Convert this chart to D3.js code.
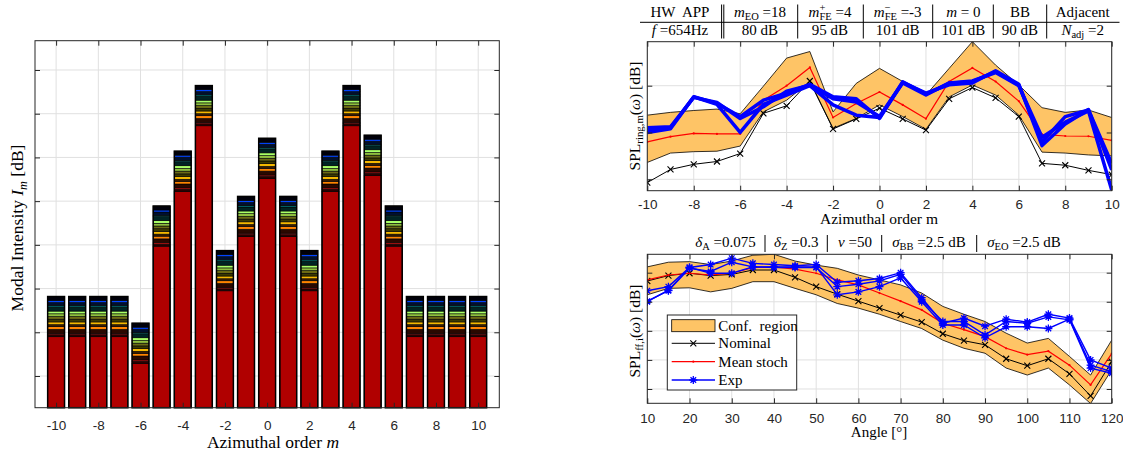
<!DOCTYPE html>
<html>
<head>
<meta charset="utf-8">
<script src="https://cdn.jsdelivr.net/npm/d3@7"></script>
<style>
body{margin:0;background:#fff;}
svg{display:block;font-family:"Liberation Serif","Times New Roman",serif;}
text{white-space:pre;}
.tick text{font-family:"Liberation Sans",Arial,sans-serif;font-size:13.5px;fill:#262626;}
</style>
</head>
<body>
<div id="fig"></div>
<script>
// ---- left panel: modal intensity (stacked bars) ----
var modes=d3.range(-10,11);
var baseLevel=[19.0,19.0,19.0,19.0,12.9,39.7,52.25,67.25,29.5,41.9,55.2,41.9,29.5,52.25,67.25,55.9,39.7,19.0,19.0,19.0,19.0];
var stackSizes=[0.46,0.3,0.91,0.62,0.46,0.62,0.62,0.62,0.62,0.62,0.91,0.3,0.75,0.46,0.91];
var stackColors=['#2a0000','#ff1a1a','#2b0800','#ff8400','#3a1c00','#f5b800','#3c3a00','#6b6a14','#8fbf3f','#a8ff66','#002424','#008a8a','#00102e','#0044ff','#00000a'];
var barXTicks=[-10,-8,-6,-4,-2,0,2,4,6,8,10];
var barYTicks=[10,20,30,40,50,60,70,80];

// ---- top right: ring SPL vs azimuthal order ----
var ringModes=d3.range(-10,11);
var ringNominal=[79.3,82.1,83.2,83.8,85.5,94.1,95.7,101.0,90.75,92.9,95.2,92.9,90.5,97.2,99.6,97.4,93.4,83.4,83.0,81.9,81.0];
var ringMean=[88.0,89.1,89.8,89.7,89.7,96.9,100.0,103.9,93.2,96.2,98.65,95.9,92.95,100.9,103.8,100.9,96.7,89.6,89.25,89.2,88.3];
var ringUpper=[93.7,94.3,94.7,95.0,94.0,99.9,105.9,107.3,94.4,100.5,103.7,100.9,98.0,103.7,109.4,104.4,100.15,95.3,94.3,94.8,93.2];
var ringLower=[83.6,85.6,85.9,86.0,87.1,94.4,96.9,100.85,90.9,93.0,95.9,93.4,90.7,97.6,100.15,98.0,93.7,85.8,85.6,85.2,85.0];
var ringExpA=[90.5,91.0,97.65,96.2,93.4,96.9,98.4,100.3,97.65,97.2,93.0,100.85,98.2,100.5,100.85,103.0,100.15,88.0,93.4,94.8,83.4];
var ringExpB=[90.0,90.8,97.6,96.0,90.0,96.0,98.0,100.0,95.9,93.7,93.2,100.6,98.0,100.6,101.0,102.8,100.0,89.0,92.2,94.6,77.7];
var ringExpC=[91.0,91.2,97.5,96.4,93.0,95.5,98.8,100.1,97.2,96.5,93.4,100.7,98.4,100.2,100.6,103.2,100.3,87.2,91.8,94.9,82.0];
var ringXTicks=[-10,-8,-6,-4,-2,0,2,4,6,8,10];
var ringYTicks=[80,90,100];

// ---- bottom right: far-field SPL vs angle ----
var angles=d3.range(10,121,5);
var ffNominal=[78.57,79.5,79.9,79.5,79.7,80.46,80.46,79.2,77.6,76.3,75.1,73.9,72.7,71.5,69.5,68.3,67.6,65.2,64.0,65.2,62.6,58.8,64.7];
var ffMean=[78.75,79.6,79.9,79.6,79.9,80.86,81.0,80.6,79.9,78.75,77.9,76.5,75.1,73.6,71.3,70.2,69.0,67.0,65.9,66.5,64.1,60.7,66.1];
var ffUpper=[81.0,81.8,81.9,81.4,82.0,83.0,83.16,82.0,81.3,80.75,79.6,78.75,77.9,76.5,74.2,72.85,71.6,69.6,67.9,68.7,65.6,62.4,68.4];
var ffLower=[76.2,77.3,77.4,76.7,77.3,78.45,78.45,77.3,76.2,74.7,73.9,72.85,71.6,70.4,68.4,67.0,66.15,63.6,62.4,63.6,60.7,57.5,63.3];
var ffExpA=[76.9,77.6,80.9,81.4,82.5,81.6,81.4,81.2,81.4,78.35,78.6,79.0,80.0,75.7,71.3,72.2,70.8,72.0,71.5,72.85,72.2,65.0,63.6];
var ffExpB=[75.1,76.9,80.75,80.2,81.8,81.0,81.0,81.0,81.0,76.2,76.7,77.6,79.1,75.0,71.0,71.0,68.8,70.7,70.7,70.4,72.0,64.1,63.0];
var ffExpC=[75.0,77.0,80.9,79.9,79.9,81.0,80.9,80.9,80.9,77.6,78.0,78.6,79.7,75.3,71.6,71.6,69.3,71.6,71.3,72.4,71.9,63.6,62.7];
var ffXTicks=[10,20,30,40,50,60,70,80,90,100,110,120];
var ffYTicks=[60,65,70,75,80];

var legendLabels=['Conf.  region','Nominal','Mean stoch','Exp'];

var bandFill='#fec466', expBlue='#0000ff', axisCol='#262626', gridCol='#e0e0e0';

var svg=d3.select('#fig').append('svg')
    .attr('width',1123)
    .attr('height',452);

// text with italic / sub / sup pieces
function rich(g,x,y,parts,size,rot){
    var t=g.append('text')
        .attr('text-anchor','middle')
        .attr('font-size',size)
        .attr('fill','#000');
    if(rot) t.attr('transform','translate('+x+','+y+') rotate(-90)');
    else t.attr('x',x).attr('y',y);
    var shift=0, last=null;
    parts.forEach(function(p){
        var target=p.sub?size*0.22:(p.sup?-size*0.4:0);
        var s=t.append('tspan').text(p.t).attr('dy',target-shift);
        shift=target;
        if(p.sub||p.sup) s.attr('font-size',size*0.7);
        if(p.i) s.attr('font-style','italic');
        if(p.back&&last) s.attr('dx',-last.node().getComputedTextLength());
        last=s;
    });
    return t;
}

function grid(g,x,y,xt,yt){
    var r=x.range(), d=y.range();
    g.selectAll('.vg').data(xt).enter().append('line')
        .attr('x1',function(v){return x(v);}).attr('x2',function(v){return x(v);})
        .attr('y1',d[0]).attr('y2',d[1])
        .attr('stroke',gridCol);
    g.selectAll('.hg').data(yt).enter().append('line')
        .attr('x1',r[0]).attr('x2',r[1])
        .attr('y1',function(v){return y(v);}).attr('y2',function(v){return y(v);})
        .attr('stroke',gridCol);
}

function frame(g,x,y,xt,yt,pad){
    var r=x.range(), d=y.range();
    var fmt=function(v){return String(v);};
    g.append('g').attr('transform','translate(0,'+d[0]+')')
        .call(d3.axisBottom(x).tickValues(xt).tickSizeInner(-5).tickSizeOuter(0).tickPadding(pad).tickFormat(fmt));
    g.append('g').attr('transform','translate(0,'+d[1]+')')
        .call(d3.axisTop(x).tickValues(xt).tickSizeInner(-5).tickSizeOuter(0).tickFormat(''));
    g.append('g').attr('transform','translate('+r[0]+',0)')
        .call(d3.axisLeft(y).tickValues(yt).tickSizeInner(-5).tickSizeOuter(0).tickFormat(''));
    g.append('g').attr('transform','translate('+r[1]+',0)')
        .call(d3.axisRight(y).tickValues(yt).tickSizeInner(-5).tickSizeOuter(0).tickFormat(''));
    g.selectAll('.domain').remove();
    g.selectAll('.tick line').attr('stroke',axisCol);
    g.append('rect')
        .attr('x',r[0]).attr('y',d[1])
        .attr('width',r[1]-r[0]).attr('height',d[0]-d[1])
        .attr('fill','none').attr('stroke',axisCol);
}

function clipFor(id,x,y){
    var r=x.range(), d=y.range();
    svg.append('clipPath').attr('id',id).append('rect')
        .attr('x',r[0]).attr('y',d[1]).attr('width',r[1]-r[0]).attr('height',d[0]-d[1]);
}

var xMark='M-3,-3L3,3M-3,3L3,-3';
var starMark='M-4,0L4,0M0,-4L0,4M-2.8,-2.8L2.8,2.8M-2.8,2.8L2.8,-2.8';

// ================= left panel =================
var xL=d3.scaleLinear().domain([-11,11]).range([35,499.3]);
var yL=d3.scaleLinear().domain([2.75,86.7]).range([407.7,40.7]);
var gL=svg.append('g');
grid(gL,xL,yL,barXTicks,barYTicks);

var bw=0.8*(xL(1)-xL(0));
var cum=[0].concat(Array.from(d3.cumsum(stackSizes)));
var stackTotal=cum[cum.length-1];
var bars=gL.selectAll('g.bar')
    .data(modes)
    .enter()
    .append('g')
    .attr('class','bar');
bars.append('rect')
    .attr('x',function(m){return xL(m)-bw/2;})
    .attr('y',function(m,i){return yL(baseLevel[i]);})
    .attr('width',bw)
    .attr('height',function(m,i){return yL(yL.domain()[0])-yL(baseLevel[i]);})
    .attr('fill','#b00000')
    .attr('stroke','#000').attr('stroke-width',0.8);
bars.each(function(m,i){
    var b=d3.select(this);
    stackSizes.forEach(function(s,j){
        b.append('rect')
            .attr('x',xL(m)-bw/2)
            .attr('y',yL(baseLevel[i]+cum[j+1]))
            .attr('width',bw)
            .attr('height',yL(baseLevel[i]+cum[j])-yL(baseLevel[i]+cum[j+1]))
            .attr('fill',stackColors[j])
            .attr('stroke','#000').attr('stroke-width',0.6);
    });
    b.append('rect')
        .attr('x',xL(m)-bw/2)
        .attr('y',yL(baseLevel[i]+stackTotal))
        .attr('width',bw)
        .attr('height',yL(yL.domain()[0])-yL(baseLevel[i]+stackTotal))
        .attr('fill','none')
        .attr('stroke','#000').attr('stroke-width',1.5);
});
frame(gL,xL,yL,barXTicks,barYTicks,12.3);
rich(gL,273,448,[{t:'Azimuthal order '},{t:'m',i:1}],17.5);
rich(gL,23,228,[{t:'Modal Intensity '},{t:'I',i:1},{t:'m',i:1,sub:1},{t:' [dB]'}],17.5,true);

// ================= top right panel =================
var xR=d3.scaleLinear().domain([-10,10]).range([647.3,1111.7]);
var yR=d3.scaleLinear().domain([77.56,109.4]).range([190.7,41.7]);
var gR=svg.append('g');
grid(gR,xR,yR,ringXTicks,ringYTicks);
clipFor('clipR',xR,yR);
var pR=gR.append('g').attr('clip-path','url(#clipR)');

var bandR=d3.area()
    .x(function(d,i){return xR(ringModes[i]);})
    .y0(function(d,i){return yR(ringLower[i]);})
    .y1(function(d,i){return yR(ringUpper[i]);});
var lineR=function(arr){
    return d3.line().x(function(d,i){return xR(ringModes[i]);}).y(function(d){return yR(d);})(arr);
};
pR.append('path').attr('d',bandR(ringModes)).attr('fill',bandFill);
[ringUpper,ringLower].forEach(function(a){
    pR.append('path').attr('d',lineR(a)).attr('fill','none').attr('stroke','#000').attr('stroke-width',0.8);
});
pR.append('path').attr('d',lineR(ringNominal)).attr('fill','none').attr('stroke','#000').attr('stroke-width',1);
pR.selectAll('.nomR').data(ringNominal).enter().append('path')
    .attr('d',xMark)
    .attr('transform',function(d,i){return 'translate('+xR(ringModes[i])+','+yR(d)+')';})
    .attr('stroke','#000').attr('stroke-width',1.1).attr('fill','none');
pR.append('path').attr('d',lineR(ringMean)).attr('fill','none').attr('stroke','#ff0000').attr('stroke-width',1.2);
pR.selectAll('.meanR').data(ringMean).enter().append('circle')
    .attr('cx',function(d,i){return xR(ringModes[i]);})
    .attr('cy',function(d){return yR(d);})
    .attr('r',1.1).attr('fill','#ff0000');
[ringExpB,ringExpC,ringExpA].forEach(function(a){
    pR.append('path').attr('d',lineR(a)).attr('fill','none')
        .attr('stroke',expBlue).attr('stroke-width',3.5).attr('stroke-linejoin','round');
});
frame(gR,xR,yR,ringXTicks,ringYTicks,8.6);
rich(gR,879,224,[{t:'Azimuthal order m'}],15.5);
rich(gR,640,116,[{t:'SPL'},{t:'ring,m',sub:1},{t:'('},{t:'ω',i:1},{t:') [dB]'}],15.5,true);

// parameter table above the top right panel
var tableX=[680,760,830,897.7,963.3,1020,1082.7];
var tableRow1=[
    [{t:'HW  APP'}],
    [{t:'m',i:1},{t:'EO',sub:1},{t:' =18'}],
    [{t:'m',i:1},{t:'+',sup:1},{t:'FE',sub:1,back:1},{t:' =4'}],
    [{t:'m',i:1},{t:'\u2212',sup:1},{t:'FE',sub:1,back:1},{t:' =-3'}],
    [{t:'m',i:1},{t:' = 0'}],
    [{t:'BB'}],
    [{t:'Adjacent'}]
];
var tableRow2=[
    [{t:'f',i:1},{t:' =654Hz'}],
    [{t:'80 dB'}],
    [{t:'95 dB'}],
    [{t:'101 dB'}],
    [{t:'101 dB'}],
    [{t:'90 dB'}],
    [{t:'N',i:1},{t:'adj',sub:1},{t:' =2'}]
];
var tableSeps=[721.6,723.8,797.7,863.3,932.7,993.3,1046.7];
var gT=svg.append('g');
tableX.forEach(function(x,i){
    rich(gT,x,17,tableRow1[i],15);
    rich(gT,x,34.5,tableRow2[i],15);
});
gT.append('line').attr('x1',640).attr('x2',1119.5).attr('y1',22.3).attr('y2',22.3).attr('stroke','#000');
gT.selectAll('.sep').data(tableSeps).enter().append('line')
    .attr('x1',function(d){return d;}).attr('x2',function(d){return d;})
    .attr('y1',4.5).attr('y2',38.5).attr('stroke','#000');

// ================= bottom right panel =================
var xF=d3.scaleLinear().domain([10,120]).range([647.3,1111.7]);
var yF=d3.scaleLinear().domain([57.54,83.16]).range([403.3,254.3]);
var gF=svg.append('g');
grid(gF,xF,yF,ffXTicks,ffYTicks);
clipFor('clipF',xF,yF);
var pF=gF.append('g').attr('clip-path','url(#clipF)');
var bandF=d3.area()
    .x(function(d,i){return xF(angles[i]);})
    .y0(function(d,i){return yF(ffLower[i]);})
    .y1(function(d,i){return yF(ffUpper[i]);});
var lineF=function(arr){
    return d3.line().x(function(d,i){return xF(angles[i]);}).y(function(d){return yF(d);})(arr);
};
pF.append('path').attr('d',bandF(angles)).attr('fill',bandFill);
[ffUpper,ffLower].forEach(function(a){
    pF.append('path').attr('d',lineF(a)).attr('fill','none').attr('stroke','#000').attr('stroke-width',0.8);
});
pF.append('path').attr('d',lineF(ffNominal)).attr('fill','none').attr('stroke','#000').attr('stroke-width',1);
pF.selectAll('.nomF').data(ffNominal).enter().append('path')
    .attr('d',xMark)
    .attr('transform',function(d,i){return 'translate('+xF(angles[i])+','+yF(d)+')';})
    .attr('stroke','#000').attr('stroke-width',1.1).attr('fill','none');
pF.append('path').attr('d',lineF(ffMean)).attr('fill','none').attr('stroke','#ff0000').attr('stroke-width',1.2);
pF.selectAll('.meanF').data(ffMean).enter().append('circle')
    .attr('cx',function(d,i){return xF(angles[i]);})
    .attr('cy',function(d){return yF(d);})
    .attr('r',1.1).attr('fill','#ff0000');
[ffExpA,ffExpB,ffExpC].forEach(function(a){
    pF.append('path').attr('d',lineF(a)).attr('fill','none')
        .attr('stroke',expBlue).attr('stroke-width',1.4);
    pF.selectAll(null).data(a).enter().append('path')
        .attr('d',starMark)
        .attr('transform',function(d,i){return 'translate('+xF(angles[i])+','+yF(d)+')';})
        .attr('stroke',expBlue).attr('stroke-width',1.3).attr('fill','none');
});
frame(gF,xF,yF,ffXTicks,ffYTicks,9.7);
rich(gF,879,437,[{t:'Angle [°]'}],15);
rich(gF,640,331,[{t:'SPL'},{t:'ff,i',sub:1},{t:'('},{t:'ω',i:1},{t:') [dB]'}],15.5,true);

// stochastic parameters above the bottom panel
var paramX=[725.5,796.3,855,929,1024];
var paramParts=[
    [{t:'δ',i:1},{t:'A',sub:1},{t:' =0.075'}],
    [{t:'δ',i:1},{t:'Z',sub:1},{t:' =0.3'}],
    [{t:'ν',i:1},{t:' =50'}],
    [{t:'σ',i:1},{t:'BB',sub:1},{t:' =2.5 dB'}],
    [{t:'σ',i:1},{t:'EO',sub:1},{t:' =2.5 dB'}]
];
var paramSeps=[765,827.3,881.7,976.7];
paramX.forEach(function(x,i){ rich(gF,x,246.5,paramParts[i],15); });
gF.selectAll('.psep').data(paramSeps).enter().append('line')
    .attr('x1',function(d){return d;}).attr('x2',function(d){return d;})
    .attr('y1',235).attr('y2',252).attr('stroke','#000');

// legend
var gLeg=svg.append('g').attr('transform','translate(667.3,315)');
gLeg.append('rect').attr('width',129.4).attr('height',75).attr('fill','#fff').attr('stroke',axisCol);
var legY=[10.7,28.3,46.7,65];
gLeg.append('rect').attr('x',4.4).attr('y',legY[0]-6).attr('width',43.3).attr('height',12)
    .attr('fill',bandFill).attr('stroke','#000').attr('stroke-width',0.8);
gLeg.append('line').attr('x1',4.4).attr('x2',47.7).attr('y1',legY[1]).attr('y2',legY[1]).attr('stroke','#000');
gLeg.append('path').attr('d',xMark).attr('transform','translate(26,'+legY[1]+')').attr('stroke','#000').attr('stroke-width',1.1);
gLeg.append('line').attr('x1',4.4).attr('x2',47.7).attr('y1',legY[2]).attr('y2',legY[2]).attr('stroke','#ff0000').attr('stroke-width',1.2);
gLeg.append('circle').attr('cx',26).attr('cy',legY[2]).attr('r',1.1).attr('fill','#ff0000');
gLeg.append('line').attr('x1',4.4).attr('x2',47.7).attr('y1',legY[3]).attr('y2',legY[3]).attr('stroke',expBlue).attr('stroke-width',1.4);
gLeg.append('path').attr('d',starMark).attr('transform','translate(26,'+legY[3]+')').attr('stroke',expBlue).attr('stroke-width',1.3);
legendLabels.forEach(function(s,i){
    gLeg.append('text').attr('x',51).attr('y',legY[i]+5).attr('font-size',15).text(s);
});
</script>
</body>
</html>
